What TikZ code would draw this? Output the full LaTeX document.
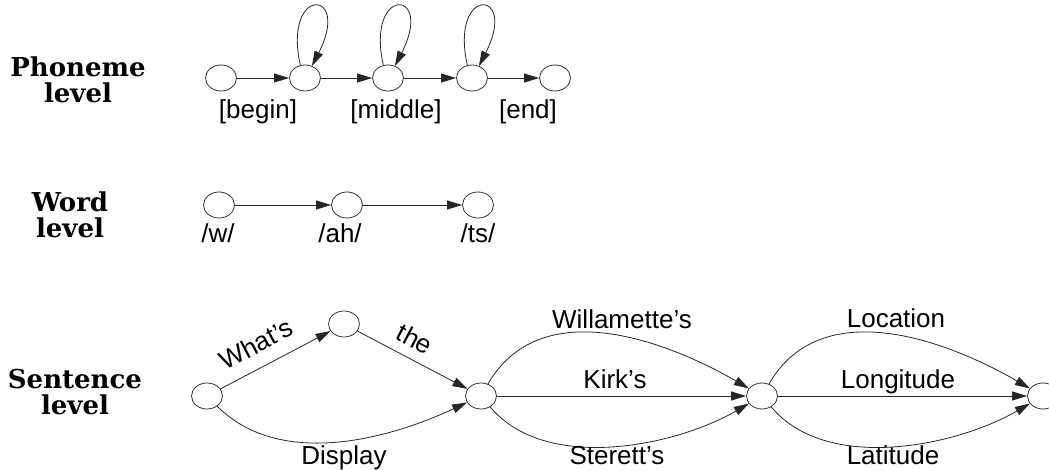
\documentclass[tikz,border=0pt]{standalone}
\usepackage{fontspec}
\setmainfont{Liberation Sans}
\newfontfamily\levelfont{DejaVu Serif}
\usetikzlibrary{arrows.meta,shapes.geometric}

\begin{document}
\begin{tikzpicture}[x=1pt,y=-1pt,
  state/.style={draw=black!80, line width=0.8pt, ellipse, minimum width=31pt,
                minimum height=26pt, inner sep=0pt},
  arr/.style={draw=black!85, line width=0.8pt, -{Triangle[length=15pt,width=9pt]}},
  lab/.style={font=\fontsize{26}{28}\selectfont, inner sep=0pt, anchor=base},
  lvl/.style={font=\levelfont\bfseries\fontsize{26}{26.5}\selectfont,
              align=center, inner sep=0pt}]

\useasboundingbox (0,0) rectangle (1049,470);

% level captions
\node[lvl] (lp) at (78,80)  {Phoneme\\level};
\node[lvl] (lw) at (70,215) {Word\\level};
\node[lvl] (ls) at (75,392) {Sentence\\level};

% phoneme level
\node[state] (p1) at (221,78) {};
\node[state] (p2) at (305,78) {};
\node[state] (p3) at (388,78) {};
\node[state] (p4) at (472,78) {};
\node[state] (p5) at (555,78) {};
\draw[arr] (p1) -- (p2);
\draw[arr] (p2) -- (p3);
\draw[arr] (p3) -- (p4);
\draw[arr] (p4) -- (p5);
\foreach \n in {p2,p3,p4}
  \draw[arr] (\n.110) .. controls +(-18,-80) and +(40,-78) .. (\n.60);
\node[lab] (tbegin)  at (258,119) {[begin]};
\node[lab] (tmiddle) at (396,119) {[middle]};
\node[lab] (tend)    at (528,119) {[end]};

% word level
\node[state] (w1) at (219,205) {};
\node[state] (w2) at (347,205) {};
\node[state] (w3) at (478,205) {};
\draw[arr] (w1) -- (w2);
\draw[arr] (w2) -- (w3);
\node[lab] (tw)  at (218,243) {/w/};
\node[lab] (tah) at (340,243) {/ah/};
\node[lab] (tts) at (478,243) {/ts/};

% sentence level
\node[state] (s1) at (207,396) {};
\node[state] (s2) at (344,324) {};
\node[state] (s3) at (481,396) {};
\node[state] (s4) at (762,396) {};
\node[state] (s5) at (1043,396) {};

\draw[arr] (s1) -- (s2);
\draw[arr] (s2) -- (s3);
\draw[arr] (s1) to[out=-45,in=-155,looseness=0.9] (s3);
\node[lab, anchor=center, rotate=27.7]  (twhats) at (256,344) {What's};
\node[lab, anchor=center, rotate=-27.7] (tthe)   at (415,339) {the};
\node[lab] (tdisplay) at (344,464) {Display};

\draw[arr] (s3) to[out=60,in=150] (s4);
\draw[arr] (s3) -- (s4);
\draw[arr] (s3) to[out=-50,in=-150,looseness=0.85] (s4);
\node[lab] (twill)  at (622,328) {Willamette's};
\node[lab] (tkirk)  at (615,388) {Kirk's};
\node[lab] (tster)  at (617,464) {Sterett's};

\draw[arr] (s4) to[out=60,in=150] (s5);
\draw[arr] (s4) -- (s5);
\draw[arr] (s4) to[out=-50,in=-150,looseness=0.85] (s5);
\node[lab] (tloc)  at (896,327) {Location};
\node[lab] (tlong) at (898,388) {Longitude};
\node[lab] (tlat)  at (893,464) {Latitude};
\end{tikzpicture}
\end{document}
